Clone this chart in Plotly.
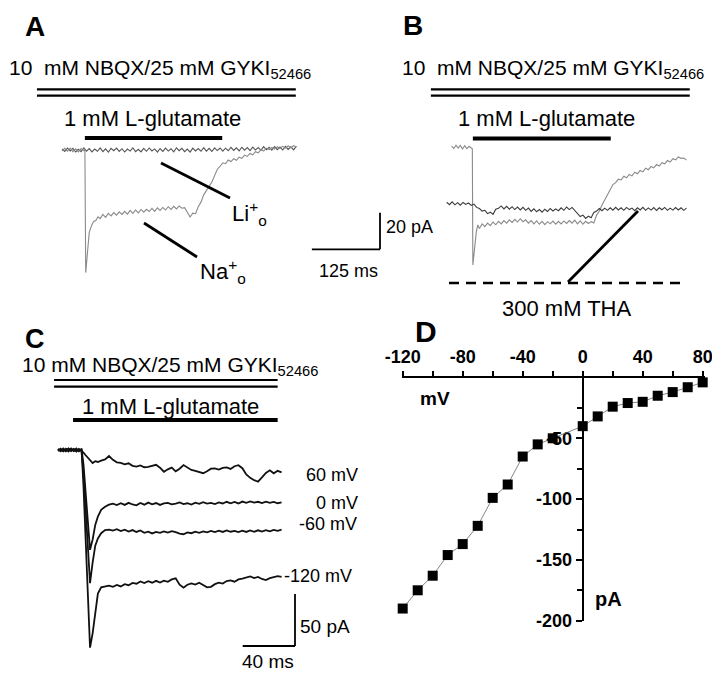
import plotly.graph_objects as go

W, H = 720, 674
FONT = "Liberation Sans, Arial, Helvetica, sans-serif"

# ---------------- DATA ----------------
# Panel A: 1 mM L-glutamate with Li+o or Na+o (time in ms, current in pA)
T_LI = list(range(0, 431, 5))
LI_PA = [0.6, -0.8, 1.0, -0.5, 0.9, -1.1, 0.4, -0.9, 1.2, -0.6,
         0.8, -1.0, 0.5, -0.7, 1.1, -0.9, 0.6, -1.2, 0.9, -0.4,
         1.0, -0.8, 0.7, -1.1, 0.5, -0.6, 1.2, -0.9, 0.4, -1.0,
         0.9, -0.7, 1.1, -0.5, 0.6, -1.2, 0.8, -0.8, 1.0, -0.6,
         0.7, -1.0, 1.2, -0.4, 0.9, -0.9, 0.5, -1.1, 1.0, -0.5,
         0.8, -0.7, 1.3, -0.6, 0.9, -0.8, 1.2, -0.3, 1.1, -0.6,
         1.0, -0.4, 1.4, -0.2, 1.2, -0.5, 1.5, -0.1, 1.3, -0.3,
         1.6, 0.0, 1.4, -0.2, 1.8, 0.1, 1.5, -0.1, 1.9, 0.2,
         1.6, 0.0, 2.0, 0.3, 1.7, 0.1, 2.1]

T_NA = [0, 5, 10, 15, 20, 25, 30, 35, 40, 42, 43.5, 45, 47, 50, 54, 58, 62, 66, 70] + list(range(75, 431, 5))
NA_PA = [-0.5, 0.9, -0.7, 1.0, -0.9, 0.6, -1.0, 0.8, -0.4, 0.3,
         -67.0, -61.0, -52.0, -45.0, -41.5, -39.0, -38.5, -36.5, -37.5,
         -35.2, -36.8, -34.6, -36.0, -34.2, -35.6, -33.8, -35.2, -33.5, -35.0,
         -33.0, -34.6, -32.8, -34.4, -32.5, -34.0, -32.4, -33.6, -31.9, -33.5,
         -31.6, -33.0, -31.4, -32.8, -31.0, -32.5, -30.8, -32.2, -30.6, -31.8,
         -31.5, -34.0, -36.6, -34.5, -34.8, -31.0, -28.5, -24.5, -22.0, -19.5,
         -17.5, -14.0, -10.5, -9.0, -7.0, -7.5, -5.5, -6.3, -4.8, -5.6,
         -3.9, -4.6, -2.8, -3.5, -1.9, -2.6, -0.9, -1.5, 0.2, -0.6,
         1.0, 0.2, 1.4, 0.5, 1.8, 0.9, 2.0, 1.1, 2.2, 1.2,
         2.4, 1.5]

# Panel B: control and 300 uM THA
T_CTRL = [9, 13, 17, 21, 25, 29, 33, 37, 41, 45, 47, 48, 50, 52, 54.5, 57, 60] + list(range(65, 441, 5))
CTRL_PA = [0.5, -0.8, 1.0, -0.6, 0.9, -1.1, 0.7, -0.9, 0.4, -0.5, -1.0,
           -64.5, -58.0, -51.0, -46.0, -42.6, -44.5,
           -42.0, -43.5, -41.6, -43.0, -41.0, -42.5, -40.6, -42.0, -40.2, -41.6,
           -39.8, -41.2, -39.5, -41.0, -39.2, -40.8, -39.8, -41.6, -40.2, -42.0,
           -40.4, -42.2, -40.6, -42.4, -40.8, -42.0, -40.5, -42.2, -40.6, -42.0,
           -40.4, -41.8, -40.2, -41.6, -40.0, -42.0, -40.4, -42.2, -40.6, -41.8,
           -40.8, -41.5, -37.2, -35.0, -31.7, -29.0, -25.5, -23.5, -20.5, -19.5,
           -17.6, -18.0, -16.0, -16.8, -15.0, -15.8, -13.8, -14.6, -12.8, -13.6,
           -11.6, -12.4, -10.6, -11.4, -9.6, -10.4, -8.6, -9.2, -7.4, -8.2,
           -6.4, -7.0, -5.4, -6.2, -6.0, -7.2]

T_THA = list(range(0, 441, 5))
THA_PA = [-30.2, -31.5, -30.0, -31.6, -30.4, -31.8, -30.3, -31.4, -30.6, -31.9,
          -31.2, -33.0, -33.6, -35.0, -34.6, -36.4, -35.6, -36.8, -34.0, -33.5,
          -32.2, -33.8, -32.4, -34.0, -32.6, -34.2, -32.8, -34.4, -33.0, -34.6,
          -33.4, -35.2, -33.8, -35.4, -34.2, -35.6, -34.0, -35.2, -33.6, -35.0,
          -33.8, -34.8, -33.2, -34.6, -32.8, -34.2, -33.0, -34.8, -36.5, -38.0,
          -37.2, -39.0, -37.8, -38.6, -35.8, -35.0, -33.6, -34.8, -33.4, -34.6,
          -33.2, -34.5, -33.0, -34.4, -33.2, -34.6, -33.0, -34.2, -33.4, -34.8,
          -33.2, -34.4, -33.0, -34.6, -33.3, -34.5, -33.1, -34.7, -33.2, -34.3,
          -33.0, -34.6, -33.4, -34.5, -33.1, -34.4, -33.2, -34.6, -33.4]

# Panel C: currents at four holding potentials
T_C = [0, 2, 4, 6, 8, 10, 12, 14, 16, 18, 19.5, 21, 22.5, 24.5, 26.5, 28.5, 30.5, 33, 36, 39] + list(range(42, 172, 3))
C_LABELS = ["60 mV", "0 mV", "-60 mV", "-120 mV"]
C_P60 = [0.8, -1.2, 1.5, -0.6, 1.2, -1.0, 0.9, -1.4, 1.1, -0.5,
         -2.5, -4.8, -7.0, -10.5, -12.5, -10.8, -11.5, -10.2, -9.0, -5.8,
         -9.5, -11.8, -12.4, -13.8, -12.8, -15.2, -16.0, -14.8, -16.6, -16.3,
         -15.5, -14.2, -17.0, -20.9, -18.6, -17.0, -20.5, -18.0, -14.5, -16.8,
         -19.2, -20.0, -21.5, -22.3, -20.4, -18.0, -17.6, -18.8, -17.2, -16.8,
         -18.2, -15.6, -14.6, -17.5, -23.5, -26.8, -29.0, -30.5, -26.4, -22.0,
         -19.5, -22.4, -20.0, -21.5]
C_0 = [-0.6, 1.3, -1.0, 0.7, -1.5, 1.1, -0.8, 1.4, -1.2, 0.6,
       -14.0, -38.0, -62.0, -96.0, -86.0, -72.0, -64.0, -57.5, -54.5, -52.5,
       -51.6, -53.0, -51.2, -52.8, -50.8, -52.4, -53.2, -51.0, -52.6, -50.6,
       -52.2, -51.0, -52.8, -51.4, -50.8, -52.3, -51.5, -50.4, -52.0, -51.2,
       -52.4, -50.6, -51.8, -50.2, -51.6, -50.9, -52.0, -50.4, -51.4, -49.8,
       -51.2, -50.0, -51.4, -49.6, -50.8, -49.4, -50.6, -49.8, -51.0, -49.6,
       -50.8, -49.9, -51.2, -50.4]
C_M60 = [1.1, -0.9, 0.6, -1.3, 1.4, -0.7, 1.0, -1.1, 0.5, -0.8,
         -22.0, -55.0, -88.0, -128.0, -108.0, -92.0, -85.0, -80.0, -77.0, -76.5,
         -77.5, -76.2, -78.0, -76.6, -78.4, -77.0, -78.8, -77.4, -79.6, -78.6,
         -80.2, -78.8, -79.6, -78.2, -79.4, -78.0, -79.0, -80.4, -81.0, -79.2,
         -80.0, -78.6, -79.6, -78.2, -79.2, -77.8, -79.0, -77.6, -78.8, -77.4,
         -78.6, -77.8, -79.0, -77.6, -78.8, -77.4, -78.6, -77.2, -78.4, -77.0,
         -78.2, -76.8, -77.8, -76.6]
C_M120 = [-1.0, 0.9, -1.3, 1.2, -0.5, 1.5, -1.1, 0.8, -0.7, 1.0,
          -35.0, -85.0, -135.0, -190.0, -176.0, -158.0, -138.0, -132.0, -131.0, -130.5,
          -131.5, -129.8, -131.2, -129.0, -130.0, -127.8, -128.6, -126.4, -128.0, -126.2,
          -127.6, -125.8, -127.4, -125.6, -126.8, -124.4, -123.4, -129.5, -132.4, -129.6,
          -128.2, -129.4, -127.6, -129.8, -132.0, -131.6, -129.0, -127.6, -128.4, -126.0,
          -125.4, -126.6, -124.4, -123.6, -122.8, -121.6, -123.2, -122.0, -124.0, -125.0,
          -123.2, -122.4, -121.2, -122.0]

# Drug application windows (ms)
NBQX_A, GLU_A = [-46, 429], [42, 294]
NBQX_B, GLU_B = [-29, 446], [48, 301]
NBQX_C, GLU_C = [-3, 168], [11.5, 168]

# Scale bars (ms, pA)
SCALE_AB = [125, 20]
SCALE_C = [40, 50]

# Panel D: I-V relation
IV_MV = [-120, -110, -100, -90, -80, -70, -60, -50, -40, -30, -20, 0, 10, 20, 30, 40, 50, 60, 70, 80]
IV_PA = [-190, -175, -163, -146, -137, -122, -99, -88, -65, -55, -50, -40, -32, -24, -21, -20, -15, -12, -8, -4]
D_XTICK_VALS = [-120, -80, -40, 0, 40, 80]
D_XTICK_TEXT = ["-120", "-80", "-40", "0", "40", "80"]
D_XMINOR = [-100, -60, -20, 20, 60]
D_YTICK_VALS = [-200, -150, -100, -50]
D_YTICK_TEXT = ["-200", "-150", "-100", "-50"]
D_YMINOR = [-175, -125, -75, -25]

# ---------------- LAYOUT HELPERS ----------------
# Positions below are given in screen pixels; the page body adds an offset.
OFF = 8

def px(x):
    return (x - OFF) / W

def py(y):
    return 1 - (y - OFF) / H

# full-figure trace frames: origin (screen px) and pixels per unit
FRAMES = {
    "A": dict(ox=62, oy=150, sx=0.545, sy=1.83),
    "B": dict(ox=446.7, oy=147, sx=0.545, sy=1.83),
    "C": dict(ox=58, oy=450, sx=1.3075, sy=1.04),
}

def ranges(f):
    ox, oy = f["ox"] - OFF, f["oy"] - OFF
    return ([(0 - ox) / f["sx"], (W - ox) / f["sx"]],
            [(oy - H) / f["sy"], oy / f["sy"]])

def to_data(f, xp, yp):
    return (xp - f["ox"]) / f["sx"], (f["oy"] - yp) / f["sy"]

fig = go.Figure()

def add_line(x, y, ax, color, width):
    fig.add_trace(go.Scatter(x=x, y=y, mode="lines", xaxis="x" + ax, yaxis="y" + ax,
                             line=dict(color=color, width=width), hoverinfo="skip",
                             showlegend=False))

add_line(T_LI, LI_PA, "", "#555555", 1.1)
add_line(T_NA, NA_PA, "", "#8a8a8a", 1.1)
add_line(T_CTRL, CTRL_PA, "2", "#8a8a8a", 1.1)
add_line(T_THA, THA_PA, "2", "#3a3a3a", 1.1)
for vals in [C_P60, C_0, C_M60, C_M120]:
    add_line(T_C, vals, "3", "#111111", 1.8)

fig.add_trace(go.Scatter(x=IV_MV, y=IV_PA, mode="lines+markers", xaxis="x4", yaxis="y4",
                         line=dict(color="#666666", width=0.8),
                         marker=dict(symbol="square", size=10, color="black"),
                         cliponaxis=False, showlegend=False, hoverinfo="skip"))

shapes = []

def seg(x0, y0, x1, y1, width, xref="paper", yref="paper", dash="solid"):
    shapes.append(dict(type="line", x0=x0, y0=y0, x1=x1, y1=y1, xref=xref, yref=yref,
                       line=dict(color="black", width=width, dash=dash)))

# drug bars (x in data time, y in paper)
for ax, nb, gl, ydb, yg in [("x", NBQX_A, GLU_A, (89.3, 95.7), 138.0),
                            ("x2", NBQX_B, GLU_B, (89.3, 95.7), 138.5),
                            ("x3", NBQX_C, GLU_C, (380.0, 386.7), 420.0)]:
    for yy in ydb:
        seg(nb[0], py(yy), nb[1], py(yy), 2.2, xref=ax)
    seg(gl[0], py(yg), gl[1], py(yg), 4.2, xref=ax)

# scale bars
fA = FRAMES["A"]
tc, ic = to_data(fA, 380, 249.3)
seg(tc - SCALE_AB[0], ic, tc, ic, 1.8, xref="x", yref="y")
seg(tc, ic, tc, ic + SCALE_AB[1], 1.8, xref="x", yref="y")
fC = FRAMES["C"]
tc, ic = to_data(fC, 295, 646)
seg(tc - SCALE_C[0], ic, tc, ic, 1.8, xref="x3", yref="y3")
seg(tc, ic, tc, ic + SCALE_C[1], 1.8, xref="x3", yref="y3")

# pointer lines
seg(px(161), py(163), px(230), py(198), 2.8)
seg(px(144), py(223), px(197), py(257), 2.8)
seg(px(568), py(282), px(638), py(211), 2.8)
seg(px(449), py(283), px(680), py(283), 2.5, dash="10px,7px")

annotations = []

def text(s, x, y, size, xanchor="left", bold=False):
    annotations.append(dict(text=s, x=px(x), y=py(y), xref="paper", yref="paper",
                            xanchor=xanchor, yanchor="middle", showarrow=False,
                            borderpad=0,
                            font=dict(family=FONT, size=size, color="black",
                                      weight="bold" if bold else "normal")))

text("A", 24, 26, 28, bold=True)
text("B", 402, 25, 28, bold=True)
text("C", 24, 339, 27, bold=True)
text("D", 414, 332, 30, bold=True)

drug = "10  mM NBQX/25 mM GYKI<sub>52466</sub>"
text(drug, 8, 69, 21)
text(drug, 401, 69, 21)
text("10 mM NBQX/25 mM GYKI<sub>52466</sub>", 21, 366, 21)
text("1 mM L-glutamate", 152, 119, 22, xanchor="center")
text("1 mM L-glutamate", 546, 119, 22, xanchor="center")
text("1 mM L-glutamate", 170, 407, 22, xanchor="center")

text("Li<sup>+</sup><sub>o</sub>", 231, 213, 22)
text("Na<sup>+</sup><sub>o</sub>", 199, 271, 22)
text("20 pA", 385, 227, 18)
text("125 ms", 348, 271, 18, xanchor="center")
text("300 mM THA", 567, 308, 22, xanchor="center")
text("50 pA", 299, 626, 19)
text("40 ms", 268, 661, 19, xanchor="center")
for lab, xl, yl in zip(C_LABELS, [305, 315, 298, 283], [475, 503, 524, 576]):
    text(lab, xl, yl, 18)
text("mV", 435, 398, 19, xanchor="center", bold=True)
text("pA", 608, 599, 20, xanchor="center", bold=True)

layout = dict(template="none", width=W, height=H,
              margin=dict(l=0, r=0, t=0, b=0, pad=0, autoexpand=False),
              paper_bgcolor="white", plot_bgcolor="rgba(0,0,0,0)",
              showlegend=False, shapes=shapes, annotations=annotations)

for key, name in [("", "A"), ("2", "B"), ("3", "C")]:
    xr, yr = ranges(FRAMES[name])
    layout["xaxis" + key] = dict(domain=[0, 1], range=xr, visible=False, anchor="y" + key,
                                 automargin=False)
    layout["yaxis" + key] = dict(domain=[0, 1], range=yr, visible=False, anchor="x" + key,
                                 automargin=False)

ZERO_X = 582.7
TICKFONT = dict(family=FONT, size=18, color="black", weight="bold")
layout["xaxis4"] = dict(domain=[px(ZERO_X - 120.5 * 1.5), px(ZERO_X + 81.5 * 1.5)],
                        range=[-120.5, 81.5], anchor="y4", side="top", automargin=False,
                        showline=True, linecolor="black", linewidth=2,
                        ticks="outside", ticklen=5, tickwidth=2, tickcolor="black",
                        tickmode="array", tickvals=D_XTICK_VALS, ticktext=D_XTICK_TEXT,
                        minor=dict(tickmode="array", tickvals=D_XMINOR, ticks="outside",
                                   ticklen=5, tickwidth=2, tickcolor="black", showgrid=False),
                        tickfont=TICKFONT, showgrid=False, zeroline=False, layer="below traces")
layout["yaxis4"] = dict(domain=[py(620.7), py(377.5)], range=[-200, 0],
                        anchor="free", position=px(ZERO_X), side="left", automargin=False,
                        showline=True, linecolor="black", linewidth=2,
                        ticks="outside", ticklen=6, tickwidth=2, tickcolor="black",
                        tickmode="array", tickvals=D_YTICK_VALS, ticktext=D_YTICK_TEXT,
                        minor=dict(tickmode="array", tickvals=D_YMINOR, ticks="outside",
                                   ticklen=5, tickwidth=2, tickcolor="black", showgrid=False),
                        tickfont=TICKFONT, showgrid=False, zeroline=False, layer="below traces")

fig.update_layout(**layout)
fig.write_html("out.html")
